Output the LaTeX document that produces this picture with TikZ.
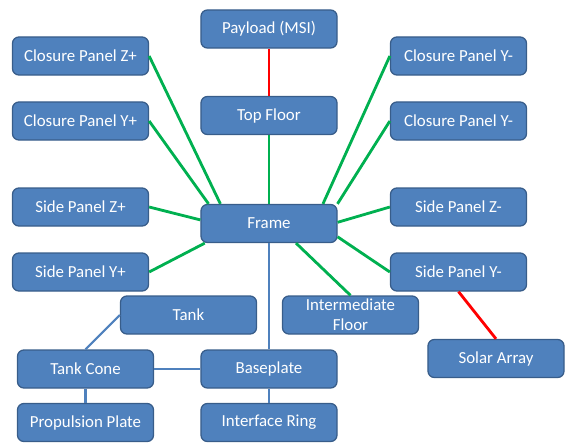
\documentclass[tikz,border=0pt]{standalone}
\usepackage{fontspec}
\setmainfont{Carlito}
\usepackage{xcolor}
\definecolor{boxblue}{HTML}{4F81BD}
\definecolor{boxedge}{HTML}{385D8A}
\definecolor{linkgreen}{HTML}{00B050}
\definecolor{linkred}{HTML}{FF0000}

\begin{document}
\begin{tikzpicture}[x=0.025cm, y=-0.025cm,
    part/.style={draw=boxedge, fill=boxblue, text=white, line width=0.9pt,
      rounded corners=1.6mm, minimum width=3.4cm, minimum height=0.95cm,
      inner sep=0pt, align=center, font=\fontsize{12}{14}\selectfont},
    green link/.style={draw=linkgreen, line width=2pt},
    red link/.style={draw=linkred, line width=2pt},
    blue link/.style={draw=boxblue, line width=1.6pt}]
  \useasboundingbox (0,0) rectangle (565,442);

  \node[part] (payload)  at (269,29)    {Payload (MSI)};
  \node[part] (topfloor) at (269,115.5) {Top Floor};
  \node[part] (cpzp)     at (80.5,56)   {Closure Panel Z+};
  \node[part] (cpyp)     at (80.5,121)  {Closure Panel Y+};
  \node[part] (cpym)     at (458.5,56)  {Closure Panel Y-};
  \node[part] (cpymb)    at (458.5,121) {Closure Panel Y-};
  \node[part] (spzp)     at (80.5,207)  {Side Panel Z+};
  \node[part] (spyp)     at (80.5,272)  {Side Panel Y+};
  \node[part] (frame)    at (269,223.5) {Frame};
  \node[part] (spzm)     at (458.5,207) {Side Panel Z-};
  \node[part] (spym)     at (458.5,272) {Side Panel Y-};
  \node[part] (ifloor)   at (350.5,315) {Intermediate\\Floor};
  \node[part] (solar)    at (496,358.5) {Solar Array};
  \node[part] (tank)     at (188.5,315) {Tank};
  \node[part] (tcone)    at (85.5,369)  {Tank Cone};
  \node[part] (base)     at (269,369)   {Baseplate};
  \node[part] (pplate)   at (85.5,422.5){Propulsion Plate};
  \node[part] (iring)    at (269,422.5) {Interface Ring};

  \draw[red link] (payload) -- (topfloor);
  \draw[green link] (topfloor) -- (frame);
  \draw[green link] (cpzp.east) -- (frame.158);
  \draw[green link] (cpyp.east) -- (frame.162);
  \draw[green link] (spzp.east) -- (frame.177);
  \draw[green link] (spyp.east) -- (frame.197);
  \draw[green link] (cpym.west) -- (frame.20);
  \draw[green link] (cpymb.west) -- (frame.16);
  \draw[green link] (spzm.west) -- (frame.1);
  \draw[green link] (spym.west) -- (frame.349);
  \draw[green link] (ifloor.north) -- (frame.324);
  \draw[red link] (spym.south) -- (solar.north);
  \draw[blue link] (frame) -- (base);
  \draw[blue link] (tank.west) -- (tcone.north);
  \draw[blue link] (tcone) -- (base);
  \draw[blue link] (tcone) -- (pplate);
  \draw[blue link] (base) -- (iring);
\end{tikzpicture}
\end{document}
